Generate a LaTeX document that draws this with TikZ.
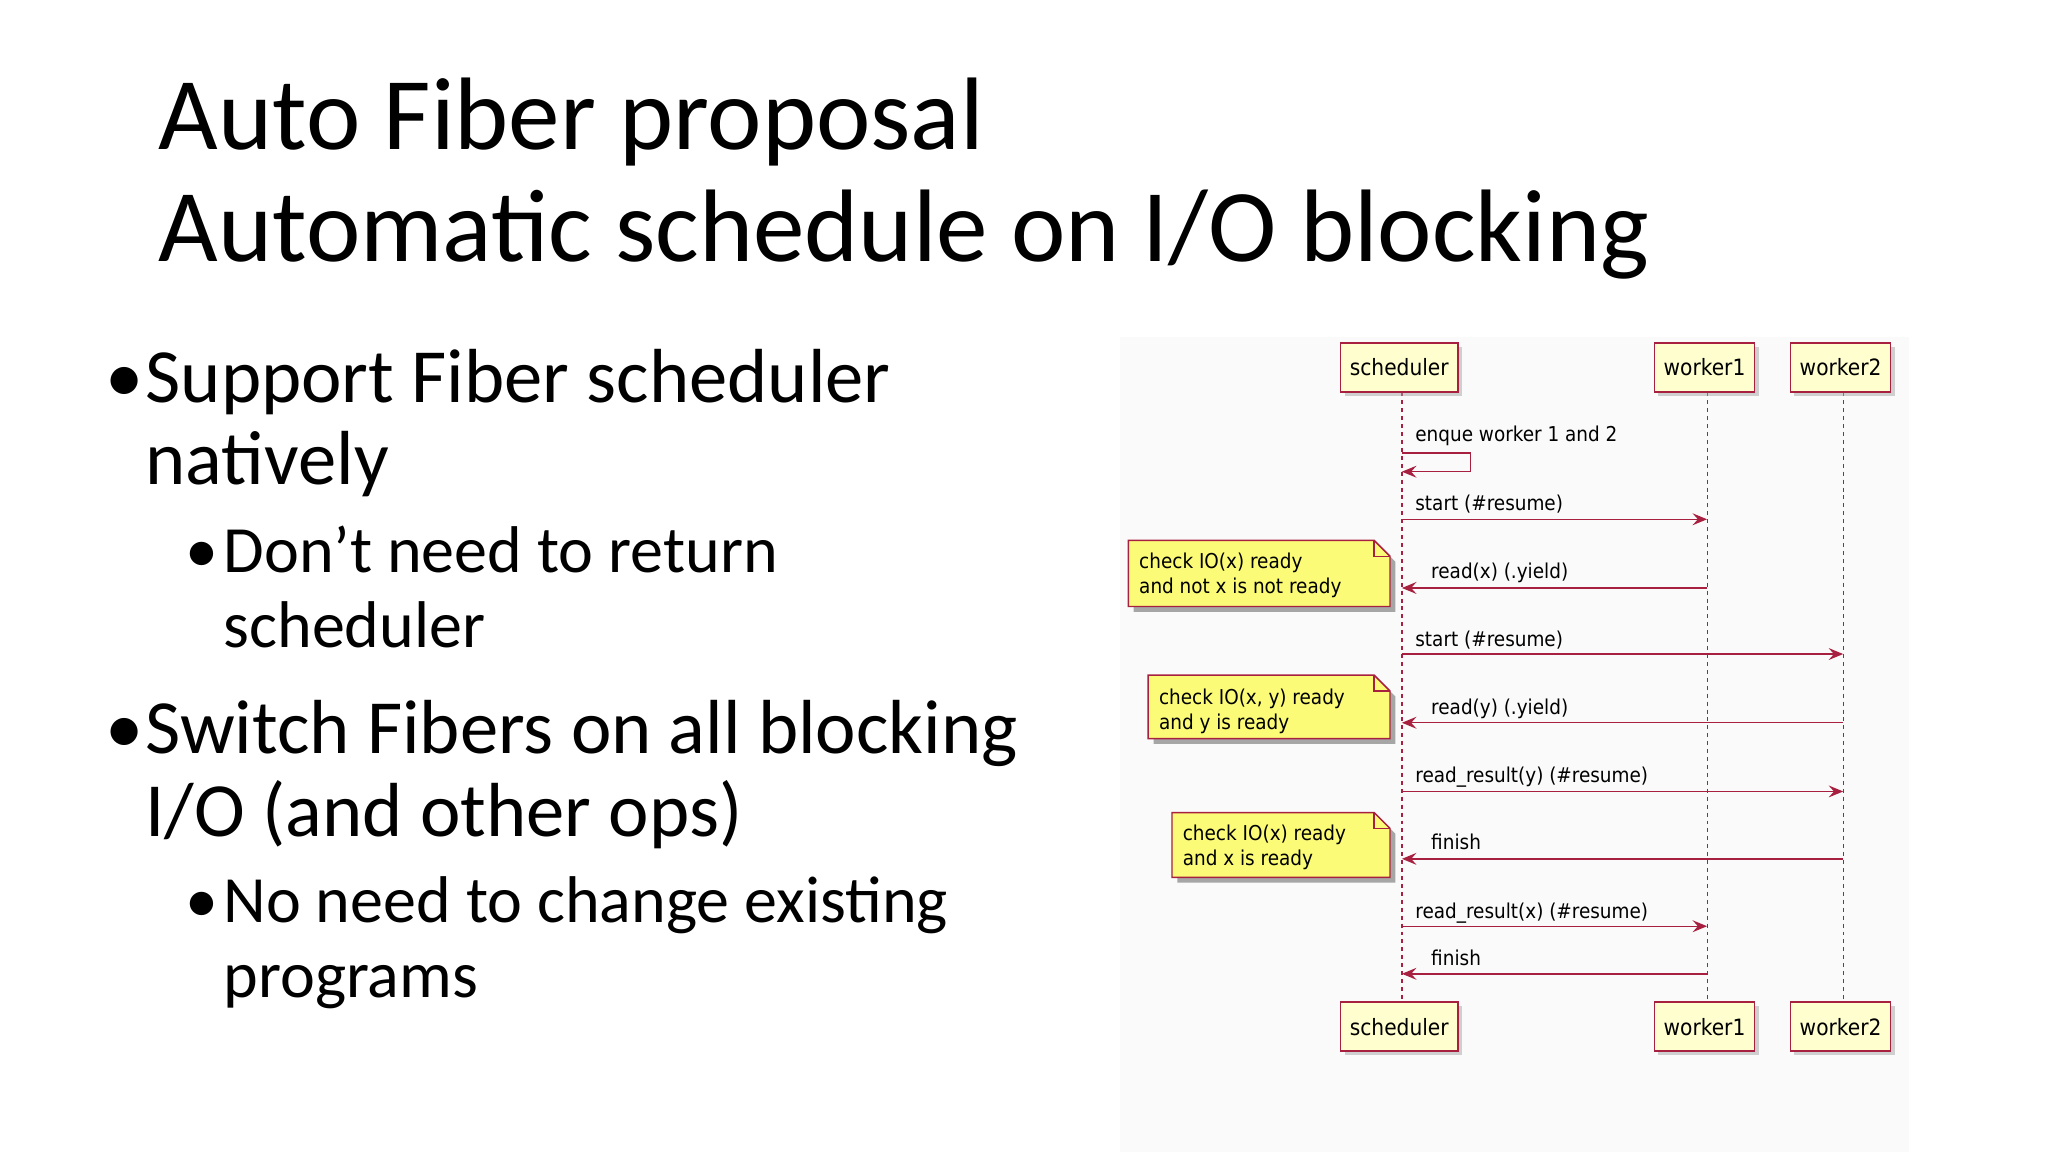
\documentclass[tikz,border=0pt]{standalone}
\usepackage{fontspec}
\setmainfont{Carlito}
\newfontfamily\dia{DejaVu Sans Condensed}
\usetikzlibrary{arrows.meta,shadows}
\definecolor{crim}{RGB}{168,32,64}
\definecolor{boxy}{RGB}{254,254,206}
\definecolor{notey}{RGB}{251,251,119}
\begin{document}
\begin{tikzpicture}[x=1pt,y=-1pt,
  part/.style={draw=crim,fill=boxy,line width=1.2pt,minimum height=37pt,inner xsep=7pt,font=\dia\fontsize{17}{20}\selectfont,drop shadow={shadow xshift=3pt,shadow yshift=-3pt,fill=black!35}},
  life/.style={crim,dashed,line width=0.9pt},
  msg/.style={crim,line width=1.1pt,-{Stealth[length=11pt,width=9pt,inset=4pt]}},
  lbl/.style={anchor=base west,inner sep=0pt,font=\dia\fontsize{15.5}{18}\selectfont},
  notetxt/.style={anchor=base west,inner sep=0pt,font=\dia\fontsize{15.5}{18}\selectfont,align=left},
  bul/.style={anchor=base west,inner sep=0pt,font=\fontsize{58}{70}\selectfont},
  sub/.style={anchor=base west,inner sep=0pt,font=\fontsize{50}{60}\selectfont}]
\useasboundingbox (0,0) rectangle (1550,872);
\fill[black!2] (848,255) rectangle (1445,872);
% title
\node[anchor=base west,inner sep=0pt,font=\fontsize{78}{94}\selectfont\addfontfeature{FakeBold=0}] (t1) at (120,113) {Auto Fiber proposal};
\node[anchor=base west,inner sep=0pt,font=\fontsize{78}{94}\selectfont] (t2) at (120,198) {Automatic schedule on I/O blocking};
% bullets
\node[bul] (b1d) at (80,305) {•};
\node[bul] (b1) at (110,305) {Support Fiber scheduler};
\node[bul] (b1b) at (110,367) {natively};
\node[sub] (s1d) at (140,433) {•};
\node[sub] (s1) at (169,433) {Don’t need to return};
\node[sub] (s1b) at (169,490) {scheduler};
\node[bul] (b2d) at (80,570) {•};
\node[bul] (b2) at (110,570) {Switch Fibers on all blocking};
\node[bul] (b2b) at (110,633) {I/O (and other ops)};
\node[sub] (s2d) at (140,698) {•};
\node[sub] (s2) at (169,698) {No need to change existing};
\node[sub] (s2b) at (169,755) {programs};
% lifelines
\draw[life] (1061,297) -- (1061,758);
\draw[life] (1292,297) -- (1292,758);
\draw[life] (1395,297) -- (1395,758);
% participants
\node[part] (sT) at (1059,278) {scheduler};
\node[part] (w1T) at (1290,278) {worker1};
\node[part] (w2T) at (1393,278) {worker2};
\node[part] (sB) at (1059,777) {scheduler};
\node[part] (w1B) at (1290,777) {worker1};
\node[part] (w2B) at (1393,777) {worker2};
% coordinates
\foreach \n/\y in {a/393,b/445,c/495,d/547,e/599,f/650,g/701,h/737}{
  \coordinate (s\n) at (1061,\y);
  \coordinate (p\n) at (1292,\y);
  \coordinate (q\n) at (1395,\y);}
% messages
\node[lbl] (l0) at (1071,334) {enque worker 1 and 2};
\coordinate (x0) at (1061,343); \coordinate (x1) at (1113,343);
\coordinate (x2) at (1113,357); \coordinate (x3) at (1061,357);
\draw[msg] (x0) -- (x1) -- (x2) -- (x3);
\node[lbl] (l1) at (1071,386) {start (\#resume)};
\draw[msg] (sa) -- (pa);
\node[lbl] (l2) at (1083,438) {read(x) (.yield)};
\draw[msg] (pb) -- (sb);
\node[lbl] (l3) at (1071,489) {start (\#resume)};
\draw[msg] (sc) -- (qc);
\node[lbl] (l4) at (1083,541) {read(y) (.yield)};
\draw[msg] (qd) -- (sd);
\node[lbl] (l5) at (1071,592) {read\_result(y) (\#resume)};
\draw[msg] (se) -- (qe);
\node[lbl] (l6) at (1083,643) {finish};
\draw[msg] (qf) -- (sf);
\node[lbl] (l7) at (1071,695) {read\_result(x) (\#resume)};
\draw[msg] (sg) -- (pg);
\node[lbl] (l8) at (1083,731) {finish};
\draw[msg] (ph) -- (sh);
% notes
\foreach \x/\ya/\yb in {854/409/459, 869/511/559, 887/615/664}{
  \fill[black!35] (\x+4,\ya+4) -- (1052+4-12,\ya+4) -- (1052+4,\ya+4+12) -- (1052+4,\yb+4) -- (\x+4,\yb+4) -- cycle;
  \draw[crim,fill=notey,line width=1.1pt] (\x,\ya) -- (1040,\ya) -- (1052,\ya+12) -- (1052,\yb) -- (\x,\yb) -- cycle;
  \draw[crim,line width=1.1pt] (1040,\ya) -- (1040,\ya+12) -- (1052,\ya+12);}
\node[notetxt] (n1) at (862,430) {check IO(x) ready};
\node[notetxt] (n1b) at (862,449) {and not x is not ready};
\node[notetxt] (n2) at (877,533) {check IO(x, y) ready};
\node[notetxt] (n2b) at (877,552) {and y is ready};
\node[notetxt] (n3) at (895,636) {check IO(x) ready};
\node[notetxt] (n3b) at (895,655) {and x is ready};
\end{tikzpicture}
\end{document}
